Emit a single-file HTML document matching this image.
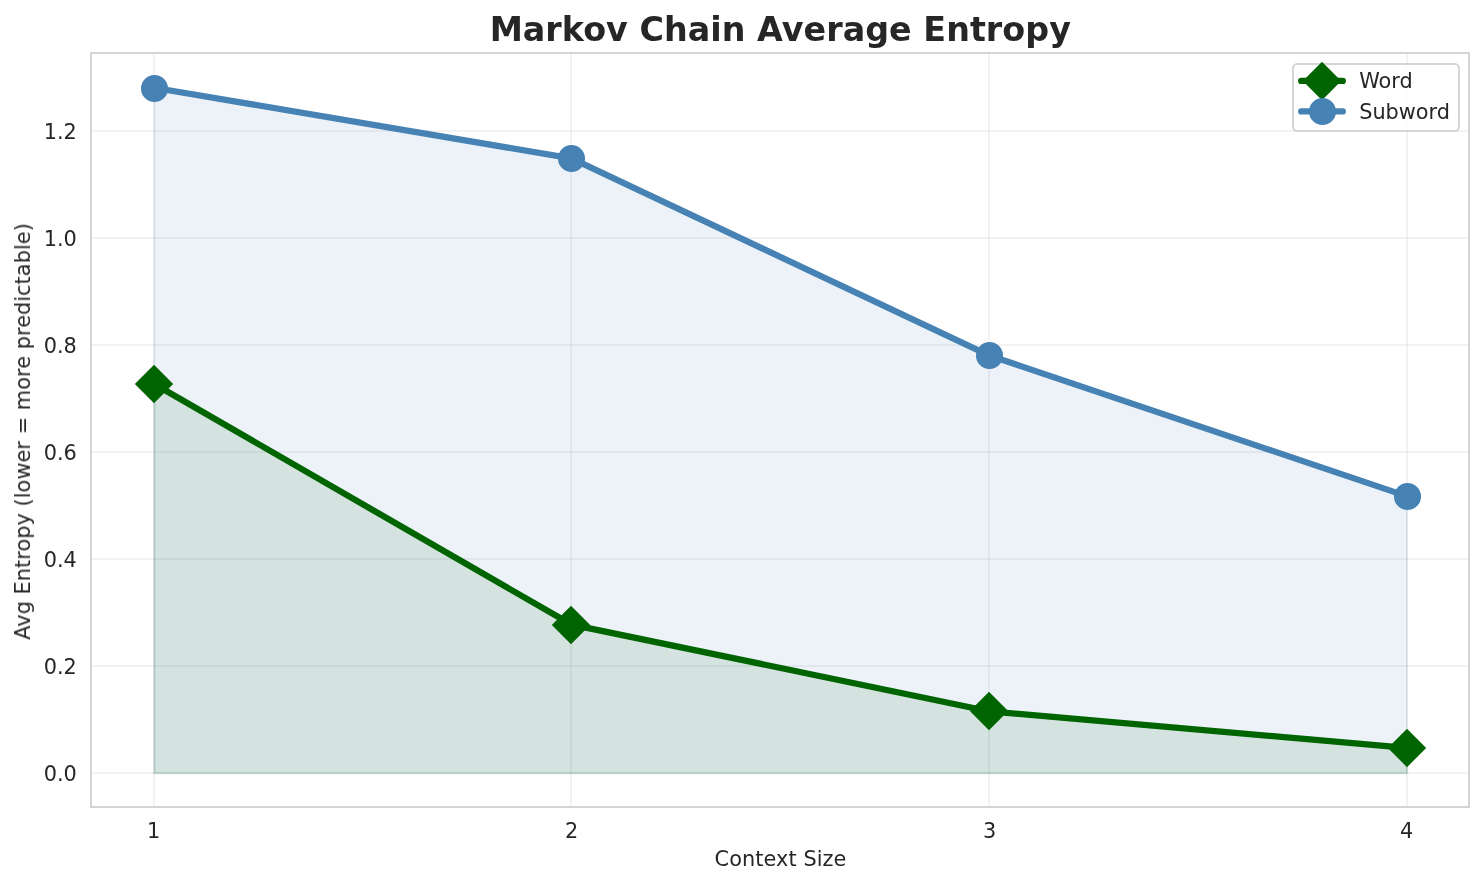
<!DOCTYPE html>
<html lang="en"><head><meta charset="utf-8"><title>Markov Chain Average Entropy</title>
<style>
html,body{margin:0;padding:0;background:#fff;}
body{width:1484px;height:885px;overflow:hidden;}
svg{display:block;}
text{font-family:"DejaVu Sans","Liberation Sans",sans-serif;fill:#262626;}
.tk{font-size:20.833px;}
.ttl{font-size:33.333px;font-weight:bold;}
</style></head><body>
<svg width="1484" height="885" viewBox="0 0 1484 885">
<rect x="0" y="0" width="1484" height="885" fill="#ffffff"/>
<defs><clipPath id="axclip"><rect x="91" y="53" width="1378" height="754"/></clipPath></defs>
<g fill="#cccccc" fill-opacity="0.25" shape-rendering="crispEdges">
<rect x="153" y="53" width="2" height="754"/>
<rect x="570" y="53" width="2" height="754"/>
<rect x="988" y="53" width="2" height="754"/>
<rect x="1406" y="53" width="2" height="754"/>
<rect x="91" y="130" width="1378" height="2"/>
<rect x="91" y="237" width="1378" height="2"/>
<rect x="91" y="344" width="1378" height="2"/>
<rect x="91" y="451" width="1378" height="2"/>
<rect x="91" y="558" width="1378" height="2"/>
<rect x="91" y="665" width="1378" height="2"/>
<rect x="91" y="772" width="1378" height="2"/>
</g>
<g clip-path="url(#axclip)">
<polygon transform="translate(0.5,0.5)" points="153.807,772.83 153.807,383.728 571.408,624.575 989.009,711.28 1406.61,747.942 1406.61,772.83" fill="#006400" fill-opacity="0.1" stroke="none"/>
<polygon transform="translate(0.5,0.5)" points="153.807,772.83 153.807,383.728 571.408,624.575 989.009,711.28 1406.61,747.942 1406.61,772.83" fill="none" stroke="#006400" stroke-opacity="0.1" stroke-width="2.083" stroke-linejoin="miter"/>
<polygon transform="translate(0.5,0.5)" points="153.807,772.83 153.807,87.754 571.408,158.402 989.009,355.361 1406.61,496.123 1406.61,772.83" fill="#4682b4" fill-opacity="0.1" stroke="none"/>
<polygon transform="translate(0.5,0.5)" points="153.807,772.83 153.807,87.754 571.408,158.402 989.009,355.361 1406.61,496.123 1406.61,772.83" fill="none" stroke="#4682b4" stroke-opacity="0.1" stroke-width="2.083" stroke-linejoin="miter"/>
<polyline points="153.807,383.728 571.408,624.575 989.009,711.28 1406.61,747.942" fill="none" stroke="#006400" stroke-width="6.25" stroke-linecap="round" stroke-linejoin="round"/>
<polygon points="154,366.322 171.678,384 154,401.678 136.322,384" fill="#006400" stroke="#006400" stroke-width="2.083" stroke-linejoin="miter"/>
<polygon points="571,607.322 588.678,625 571,642.678 553.322,625" fill="#006400" stroke="#006400" stroke-width="2.083" stroke-linejoin="miter"/>
<polygon points="989,693.322 1006.678,711 989,728.678 971.322,711" fill="#006400" stroke="#006400" stroke-width="2.083" stroke-linejoin="miter"/>
<polygon points="1407,730.322 1424.678,748 1407,765.678 1389.322,748" fill="#006400" stroke="#006400" stroke-width="2.083" stroke-linejoin="miter"/>
<polyline points="153.807,87.754 571.408,158.402 989.009,355.361 1406.61,496.123" fill="none" stroke="#4682b4" stroke-width="6.25" stroke-linecap="round" stroke-linejoin="round"/>
<circle cx="154.5" cy="88.5" r="12.5" fill="#4682b4" stroke="#4682b4" stroke-width="2.083"/>
<circle cx="571.5" cy="158.5" r="12.5" fill="#4682b4" stroke="#4682b4" stroke-width="2.083"/>
<circle cx="989.5" cy="355.5" r="12.5" fill="#4682b4" stroke="#4682b4" stroke-width="2.083"/>
<circle cx="1407.5" cy="496.5" r="12.5" fill="#4682b4" stroke="#4682b4" stroke-width="2.083"/>
</g>
<rect x="91" y="53" width="1378" height="754" fill="none" stroke="#d4d4d4" stroke-width="2" stroke-linejoin="miter" shape-rendering="crispEdges"/>
<g opacity="0.999">
<text class="tk" x="153.707" y="838" text-anchor="middle">1</text>
<text class="tk" x="571.708" y="838" text-anchor="middle">2</text>
<text class="tk" x="989.609" y="838" text-anchor="middle">3</text>
<text class="tk" x="1406.61" y="838" text-anchor="middle">4</text>
<text class="tk" x="76.85" y="781" text-anchor="end">0.0</text>
<text class="tk" x="76.85" y="674" text-anchor="end">0.2</text>
<text class="tk" x="76.85" y="567" text-anchor="end">0.4</text>
<text class="tk" x="76.85" y="460" text-anchor="end">0.6</text>
<text class="tk" x="76.85" y="353" text-anchor="end">0.8</text>
<text class="tk" x="76.85" y="246" text-anchor="end">1.0</text>
<text class="tk" x="76.85" y="139" text-anchor="end">1.2</text>
<text class="tk" x="780.5" y="866" text-anchor="middle" style="letter-spacing:0.08px">Context Size</text>
<text class="tk" transform="translate(30,431.5) rotate(-90)" text-anchor="middle" style="letter-spacing:0.055px">Avg Entropy (lower = more predictable)</text>
<text class="ttl" x="780.3" y="41" text-anchor="middle" style="letter-spacing:0.036px">Markov Chain Average Entropy</text>
</g>
<rect x="1293" y="64" width="166" height="67" rx="4.167" ry="4.167" fill="#ffffff" fill-opacity="0.8" stroke="#cccccc" stroke-opacity="0.8" stroke-width="2.083"/>
<line x1="1301.167" y1="80.958" x2="1342.833" y2="80.958" stroke="#006400" stroke-width="6.25" stroke-linecap="round"/>
<polygon points="1322,63.322 1339.678,81 1322,98.678 1304.322,81" fill="#006400" stroke="#006400" stroke-width="2.083" stroke-linejoin="miter"/>
<g opacity="0.999"><text class="tk" x="1359.2" y="88">Word</text></g>
<line x1="1301.167" y1="111.375" x2="1342.833" y2="111.375" stroke="#4682b4" stroke-width="6.25" stroke-linecap="round"/>
<circle cx="1322.5" cy="111.5" r="12.5" fill="#4682b4" stroke="#4682b4" stroke-width="2.083"/>
<g opacity="0.999"><text class="tk" x="1359.2" y="119">Subword</text></g>
</svg>
</body></html>
